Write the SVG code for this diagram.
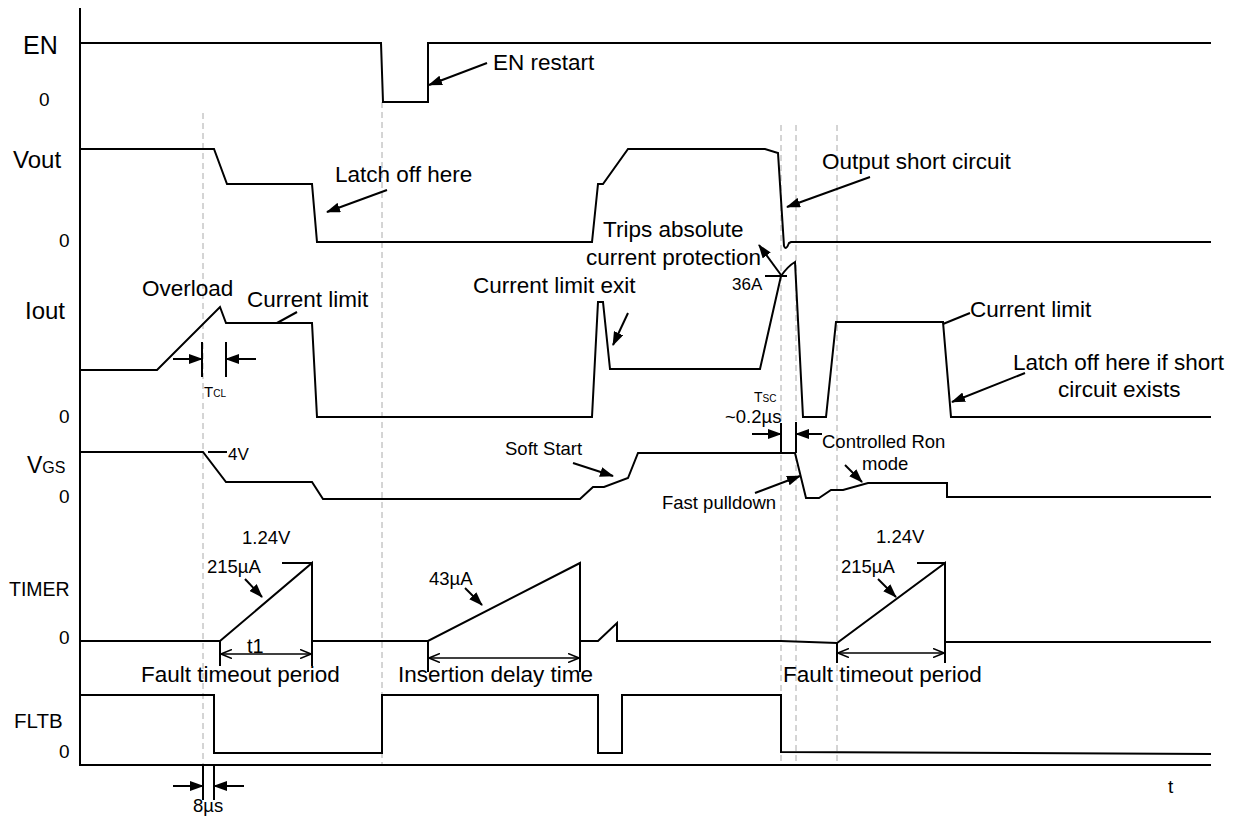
<svg xmlns="http://www.w3.org/2000/svg" width="1243" height="816" viewBox="0 0 1243 816">
<style>
text{font-family:"Liberation Sans",Arial,sans-serif;fill:#000}
.sig{fill:none;stroke:#000;stroke-width:2;stroke-linejoin:miter}
.dash{stroke:#aaa;stroke-width:1;stroke-dasharray:6 4;fill:none}
.ln{stroke:#000;stroke-width:2;fill:none}
.ann{font-size:22.5px}
.lbl{font-size:24px}
.zero{font-size:19px}
.sm{font-size:18.5px}
.arr{stroke:#000;stroke-width:2;fill:none;marker-end:url(#ah)}
.dim{stroke:#000;stroke-width:1.6;fill:none;marker-start:url(#oh);marker-end:url(#oh)}
</style>
<defs>
<marker id="ah" viewBox="0 0 14 10" markerWidth="14" markerHeight="10" refX="13" refY="5" orient="auto" markerUnits="userSpaceOnUse">
<path d="M0,0 L14,5 L0,10 z" fill="#000"/>
</marker>
<marker id="oh" viewBox="0 0 12 10" markerWidth="12" markerHeight="10" refX="11" refY="5" orient="auto-start-reverse" markerUnits="userSpaceOnUse">
<path d="M0,0.5 L11,5 L0,9.5" fill="none" stroke="#000" stroke-width="1.6"/>
</marker>
</defs>
<rect width="1243" height="816" fill="#fff"/>

<g id="guides">
<line class="dash" x1="203" y1="113" x2="203" y2="765"/>
<line class="dash" x1="382" y1="102" x2="382" y2="765"/>
<line class="dash" x1="781" y1="125" x2="781" y2="765"/>
<line class="dash" x1="796" y1="125" x2="796" y2="765"/>
<line class="dash" x1="837" y1="125" x2="837" y2="765"/>
</g>

<g id="axes">
<path class="sig" d="M80,8 V765 H1211"/>
<text x="1168" y="793" style="font-size:19px">t</text>
</g>

<g id="EN">
<text class="lbl" x="23" y="54" style="font-size:25px">EN</text>
<text class="zero" x="39" y="106">0</text>
<path class="sig" d="M80,43 H381 L383,102 H428 V43 H1211"/>
</g>

<g id="Vout">
<text class="lbl" x="13" y="168">Vout</text>
<text class="zero" x="59" y="247">0</text>
<path class="sig" d="M80,149 H214 L227,184 H312 L317,242 H592 L598,184 H603 L628,149 H765 L778,153 L784,246 Q786,251 789,243 L791,242 H1211"/>
</g>

<g id="Iout">
<text class="lbl" x="25" y="319">Iout</text>
<text class="zero" x="59" y="423">0</text>
<path class="sig" d="M80,370 H157 L220,307 L226,323 H312 L317,417 H592 L598,302 H603 L610,369 H760 L781,276 Q788,266 795,262 L803,417 H826 L836,322 H943 L951,417 H1211"/>
</g>

<g id="VGS">
<text x="27" y="473" style="font-size:23px">V<tspan style="font-size:16px">GS</tspan></text>
<text class="zero" x="59" y="503">0</text>
<path class="sig" d="M80,452 H203 L226,482 H312 L323,499 H580 L593,487 H604 L628,478 L638,453 H795 L806,498 H819 L831,490 H843 L868,483 H947 V497 H1211"/>
</g>

<g id="TIMER">
<text x="9" y="596" style="font-size:19.5px">TIMER</text>
<text class="zero" x="59" y="644">0</text>
<path class="sig" d="M80,641 H220 L312,563 V641 H428 L580,563 V641 H598 L617,623 V641 H781 L837,643 L945,563 V642 H1211"/>
</g>

<g id="FLTB">
<text x="14" y="728" style="font-size:20.5px">FLTB</text>
<text class="zero" x="59" y="758">0</text>
<path class="sig" d="M80,695 H214 V753 H382 V695 H598 V753 H622 V695 H781 V752 L1211,754"/>
</g>

<g id="connectors">
<line class="arr" x1="487" y1="63" x2="429" y2="85"/>
<line class="arr" x1="387" y1="190" x2="327" y2="212"/>
<line class="arr" x1="870" y1="177" x2="787" y2="207"/>
<line class="arr" x1="781" y1="275" x2="759" y2="245"/>
<line class="arr" x1="628" y1="313" x2="613" y2="345"/>
<line class="arr" x1="573" y1="463" x2="613" y2="476"/>
<line class="arr" x1="755" y1="493" x2="800" y2="476"/>
<line class="arr" x1="845" y1="465" x2="862" y2="482"/>
<line class="arr" x1="1025" y1="373" x2="952" y2="402"/>
<line class="arr" x1="245" y1="579" x2="262" y2="597"/>
<line class="arr" x1="465" y1="588" x2="482" y2="605"/>
<line class="arr" x1="878" y1="579" x2="896" y2="597"/>
<line class="arr" x1="173" y1="359" x2="202" y2="359"/>
<line class="arr" x1="256" y1="359" x2="226" y2="359"/>
<line class="arr" x1="752" y1="434" x2="781" y2="434"/>
<line class="arr" x1="822" y1="434" x2="796" y2="434"/>
<line class="arr" x1="173" y1="786" x2="203" y2="786"/>
<line class="arr" x1="244" y1="786" x2="214" y2="786"/>
<line class="ln" x1="277" y1="323" x2="297" y2="312"/>
<line class="ln" x1="943" y1="324" x2="970" y2="313"/>
<line class="ln" x1="765" y1="276" x2="787" y2="276"/>
<line class="ln" x1="208" y1="452" x2="227" y2="452"/>
<line class="ln" x1="282" y1="563" x2="312" y2="563"/>
<line class="ln" x1="917" y1="563" x2="945" y2="563"/>
<line class="ln" x1="202" y1="342" x2="202" y2="377"/>
<line class="ln" x1="226" y1="342" x2="226" y2="377"/>
<line class="ln" x1="781" y1="423" x2="781" y2="453"/>
<line class="ln" x1="796" y1="422" x2="796" y2="453"/>
<line class="ln" x1="203" y1="765" x2="203" y2="800"/>
<line class="ln" x1="214" y1="765" x2="214" y2="800"/>
<line class="ln" x1="220" y1="641" x2="220" y2="666"/>
<line class="ln" x1="312" y1="641" x2="312" y2="666"/>
<line class="ln" x1="428" y1="641" x2="428" y2="672"/>
<line class="ln" x1="580" y1="641" x2="580" y2="672"/>
<line class="ln" x1="837" y1="643" x2="837" y2="663"/>
<line class="ln" x1="945" y1="642" x2="945" y2="663"/>
<line class="dim" x1="221" y1="654" x2="311" y2="654"/>
<line class="dim" x1="429" y1="658" x2="579" y2="658"/>
<line class="dim" x1="838" y1="653" x2="944" y2="653"/>
</g>

<g id="labels">
<text class="ann" x="493" y="70">EN restart</text>
<text class="ann" x="335" y="182">Latch off here</text>
<text class="ann" x="822" y="169">Output short circuit</text>
<text class="ann" x="603" y="237">Trips absolute</text>
<text class="ann" x="586" y="265">current protection</text>
<text x="732" y="290" style="font-size:17px">36A</text>
<text class="ann" x="142" y="296">Overload</text>
<text class="ann" x="247" y="307">Current limit</text>
<text x="204" y="397" style="font-size:15px">T<tspan style="font-size:10px">CL</tspan></text>
<text x="228" y="460" style="font-size:17px">4V</text>
<text class="ann" x="473" y="293">Current limit exit</text>
<text class="sm" x="505" y="455">Soft Start</text>
<text x="754" y="402" style="font-size:14px">T<tspan style="font-size:10px">SC</tspan></text>
<text class="sm" x="725" y="423">~0.2µs</text>
<text class="sm" x="662" y="509">Fast pulldown</text>
<text class="sm" x="822" y="448">Controlled Ron</text>
<text class="sm" x="862" y="470">mode</text>
<text class="ann" x="970" y="317">Current limit</text>
<text class="ann" x="1013" y="370">Latch off here if short</text>
<text class="ann" x="1058" y="397">circuit exists</text>
<text class="sm" x="242" y="544">1.24V</text>
<text class="sm" x="207" y="573">215µA</text>
<text x="247" y="653" style="font-size:20px">t1</text>
<text class="ann" x="141" y="682">Fault timeout period</text>
<text class="sm" x="429" y="585">43µA</text>
<text class="ann" x="398" y="682">Insertion delay time</text>
<text class="sm" x="876" y="543">1.24V</text>
<text class="sm" x="841" y="573">215µA</text>
<text class="ann" x="783" y="682">Fault timeout period</text>
<text class="sm" x="193" y="812">8µs</text>
</g>
</svg>
